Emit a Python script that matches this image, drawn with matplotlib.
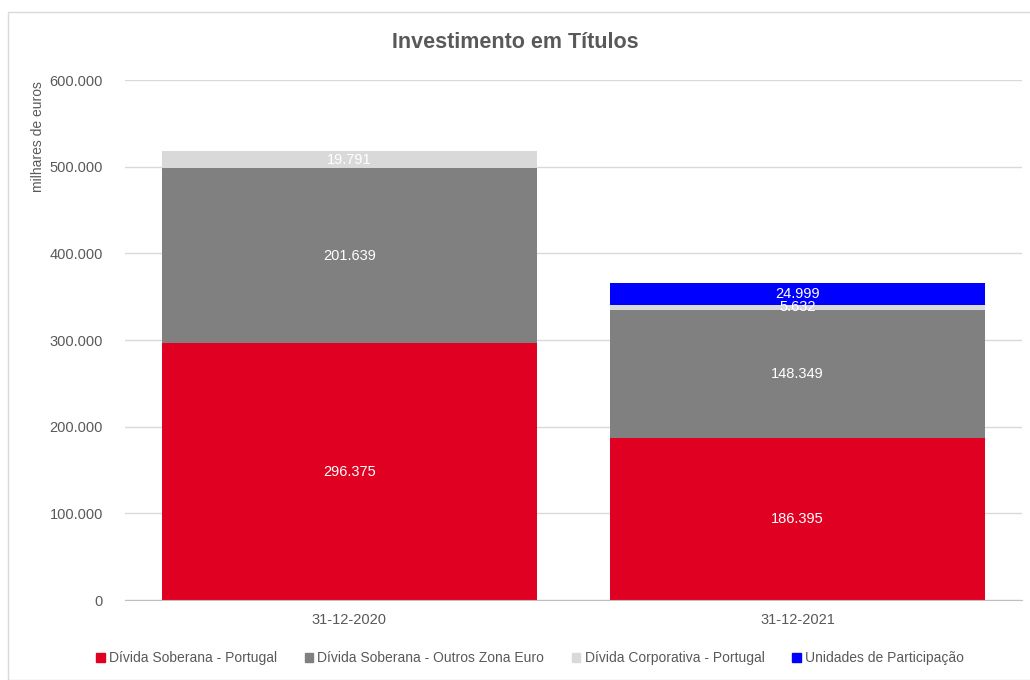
import matplotlib
matplotlib.use('Agg')
import matplotlib.pyplot as plt
import matplotlib.patches as mpatches
import numpy as np

plt.rcParams['font.family'] = ['Liberation Sans Narrow', 'Liberation Sans', 'DejaVu Sans']

# ── Data ──────────────────────────────────────────────────────────────────────
datas = ['31-12-2020', '31-12-2021']
series = ['Dívida Soberana - Portugal', 'Dívida Soberana - Outros Zona Euro',
          'Dívida Corporativa - Portugal', 'Unidades de Participação']
soberana_pt = [296375, 186395]
soberana_outros = [201639, 148349]
corporativa_pt = [19791, 5632]
unidades = [0, 24999]
valores = [soberana_pt, soberana_outros, corporativa_pt, unidades]

cores = ['#E00022', '#808080', '#D9D9D9', '#0000FF']
TXT = '#595959'

fig = plt.figure(figsize=(10.3, 6.8), dpi=100, facecolor='white')
# outer chart frame
fig.patches.append(mpatches.Rectangle((8/1030, 0), 1.2, 1 - 12/680, transform=fig.transFigure,
                                      fill=False, edgecolor='#D9D9D9', linewidth=1.0))
ax = fig.add_axes([125/1030, 1 - 600/680, 897/1030, 520/680])

x = np.arange(len(datas))
base = np.zeros(len(datas))
for nome, vals, cor in zip(series, valores, cores):
    vals = np.array(vals, dtype=float)
    ax.bar(x, vals, width=0.836, bottom=base, color=cor, label=nome, zorder=2)
    for xi, b, v in zip(x, base, vals):
        if v > 0:
            txt = f'{int(v):,}'.replace(',', '.')
            ax.text(xi, b + v / 2, txt, ha='center', va='center', color='white',
                    fontsize=10.5, zorder=3)
    base += vals

ax.set_xlim(-0.5, 1.5)
ax.set_ylim(0, 600000)
ax.set_yticks(np.arange(0, 600001, 100000))
ax.set_yticklabels(['0'] + [f'{v:,}'.replace(',', '.') for v in range(100000, 600001, 100000)])
ax.set_xticks(x)
ax.set_xticklabels(datas)
ax.yaxis.grid(True, color='#D9D9D9', linewidth=1.0, zorder=0)
ax.set_axisbelow(True)
for s in ['top', 'right', 'left']:
    ax.spines[s].set_visible(False)
ax.spines['bottom'].set_color('#BFBFBF')
ax.tick_params(axis='both', length=0, colors=TXT, labelsize=10.5)
ax.tick_params(axis='y', pad=16)
ax.tick_params(axis='x', pad=9)

fig.text(0.5, 1 - 42/680, 'Investimento em Títulos', ha='center', va='center',
         fontsize=15.5, fontweight='bold', color=TXT)
fig.text(38/1030, 1 - 137/680, 'milhares de euros', rotation=90, ha='center', va='center',
         fontsize=10, color=TXT)

handles = [mpatches.Patch(color=c) for c in cores]
fig.legend(handles, series, loc='center', bbox_to_anchor=(530/1030, 1 - 658/680), ncol=4,
           frameon=False, fontsize=10, handlelength=0.6, handleheight=0.6,
           handletextpad=0.3, columnspacing=2.0, labelcolor=TXT)

fig.savefig('out.png', dpi=100, facecolor='white')
